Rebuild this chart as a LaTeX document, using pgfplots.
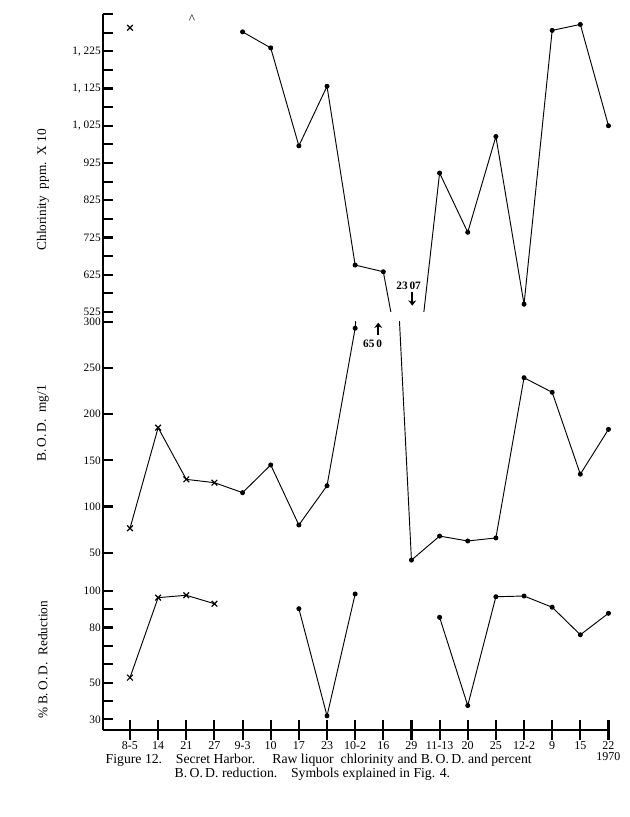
\documentclass[border=0pt]{standalone}
\usepackage{pgfplots}
\pgfplotsset{compat=1.18}
\usepackage{fontspec}
\setmainfont{Liberation Serif}
\usetikzlibrary{arrows.meta}

\begin{document}
\begin{tikzpicture}
\path (0pt,0pt) rectangle (472.5pt,612.75pt);
\pgfplotsset{
  panel/.style={
    scale only axis, width=379.1pt, xmin=-0.959, xmax=17,
    axis x line=none, axis y line=left,
    axis line style={-},
    y axis line style={-, line width=1.6pt},
    ytick align=inside, major tick length=7.5pt, minor tick length=7.5pt,
    ytick style={line width=1.6pt, black},
    yticklabel style={font=\fontsize{8.5}{9}\selectfont, inner sep=1.5pt},
    ylabel style={anchor=center, font=\fontsize{10}{11}\selectfont},
    clip mode=individual,
    anchor=south west,
  },
  dots/.style={black, line width=0.7pt, mark=*, mark size=1.5pt},
  crosses/.style={black, line width=0.7pt, mark=x, mark size=3pt, mark options={line width=0.9pt}},
  plain/.style={black, line width=0.7pt, no markers},
}

% ---------- Chlorinity ----------
\begin{axis}[panel, at={(77.25pt,378.75pt)}, height=223.5pt, ymin=525, ymax=1325,
  ytick={525,575,...,1325},
  yticklabels={525,,625,,725,,825,,925,,{1, 025},,{1, 125},,{1, 225},,},
  ylabel={Chlorinity\ \ ppm.\ \ X 10},
  ylabel style={at={(axis description cs:-0.119,0.41)}}]
\addplot[plain] coordinates {(4,1277) (5,1234) (6,971) (7,1131) (8,651) (9,633) (10,230.7) (11,898) (12,739) (13,996) (14,546) (15,1281) (16,1297) (17,1025)};
\addplot[dots, only marks] coordinates {(4,1277) (5,1234) (6,971) (7,1131) (8,651) (9,633) (11,898) (12,739) (13,996) (14,546) (15,1281) (16,1297) (17,1025)};
\addplot[crosses, only marks] coordinates {(0,1288)};
\addplot[only marks, mark=text, text mark={\textasciicircum}, mark options={font=\fontsize{8}{9}\selectfont}] coordinates {(2.2,1312)};
\node[font=\fontsize{8.5}{9}\selectfont\bfseries] at (axis cs:9.9,595) {23\,07};
\draw[-{Stealth[length=4pt,width=6pt]}, line width=1.6pt] (axis cs:10.03,580) -- (axis cs:10.03,542);
\end{axis}

% ---------- B.O.D. ----------
\begin{axis}[panel, at={(77.25pt,185.25pt)}, height=186.2pt, ymin=31.3, ymax=300,
  y axis line style={shorten >=-7.3pt},
  ytick={50,100,...,300},
  yticklabels={50,100,150,200,250,300},
  ylabel={B.\,O.\,D.\ \ mg/1},
  ylabel style={at={(axis description cs:-0.119,0.59)}}]
\addplot[plain] coordinates {(0,76.4) (1,185.3) (2,129.4) (3,125.8) (4,115) (5,145) (6,80) (7,122.5) (8,293) (9,650) (10,42) (11,68) (12,62.7) (13,66) (14,239.4) (15,223.6) (16,135) (17,183.5)};
\addplot[crosses, only marks] coordinates {(0,76.4) (1,185.3) (2,129.4) (3,125.8)};
\addplot[dots, only marks] coordinates {(4,115) (5,145) (6,80) (7,122.5) (8,293) (10,42) (11,68) (12,62.7) (13,66) (14,239.4) (15,223.6) (16,135) (17,183.5)};
\node[font=\fontsize{8.5}{9}\selectfont\bfseries] at (axis cs:8.62,276.6) {65\,0};
\draw[-{Stealth[length=4pt,width=6pt]}, line width=1.6pt] (axis cs:8.82,285.5) -- (axis cs:8.82,299);
\end{axis}

% ---------- % B.O.D. reduction ----------
\begin{axis}[panel, at={(77.25pt,65.25pt)}, height=120pt, ymin=24.2, ymax=111.25,
  ytick={30,40,...,100},
  yticklabels={30,,50,,,80,,100},
  ylabel={\%\,B.\,O.\,D.\ \ Reduction},
  ylabel style={at={(axis description cs:-0.119,0.44)}}]
\addplot[crosses] coordinates {(0,52.7) (1,96.2) (2,97.5) (3,92.9)};
\addplot[dots] coordinates {(6,90.2) (7,31.9) (8,98.2)};
\addplot[dots] coordinates {(11,85.5) (12,37.5) (13,96.7) (14,97.1) (15,91) (16,76) (17,87.7)};
\end{axis}

% ---------- shared date axis ----------
\begin{axis}[scale only axis, width=379.1pt, height=120pt, xmin=-0.959, xmax=17,
  ymin=24.2, ymax=111.25, at={(77.25pt,65.25pt)}, anchor=south west,
  axis y line=none, axis x line=bottom,
  x axis line style={-, line width=1.6pt},
  xtick={0,...,17},
  xticklabels={8-5,14,21,27,9-3,10,17,23,10-2,16,29,11-13,20,25,12-2,9,15,{22\\1970}},
  xtick align=center, major tick length=15pt,
  xtick style={line width=1.6pt, black},
  xticklabel style={font=\fontsize{9}{8}\selectfont, align=center, inner sep=1pt}]
\end{axis}

\node[anchor=base west, font=\fontsize{10.3}{11}\selectfont] at (75.75pt,40pt) {Figure 12.\quad Secret Harbor.\quad\ Raw liquor\ \ chlorinity and B.\,O.\,D. and percent};
\node[anchor=base west, font=\fontsize{10.3}{11}\selectfont] at (127.5pt,29.5pt) {B.\,O.\,D. reduction.\quad Symbols explained in Fig. 4.};
\end{tikzpicture}
\end{document}
